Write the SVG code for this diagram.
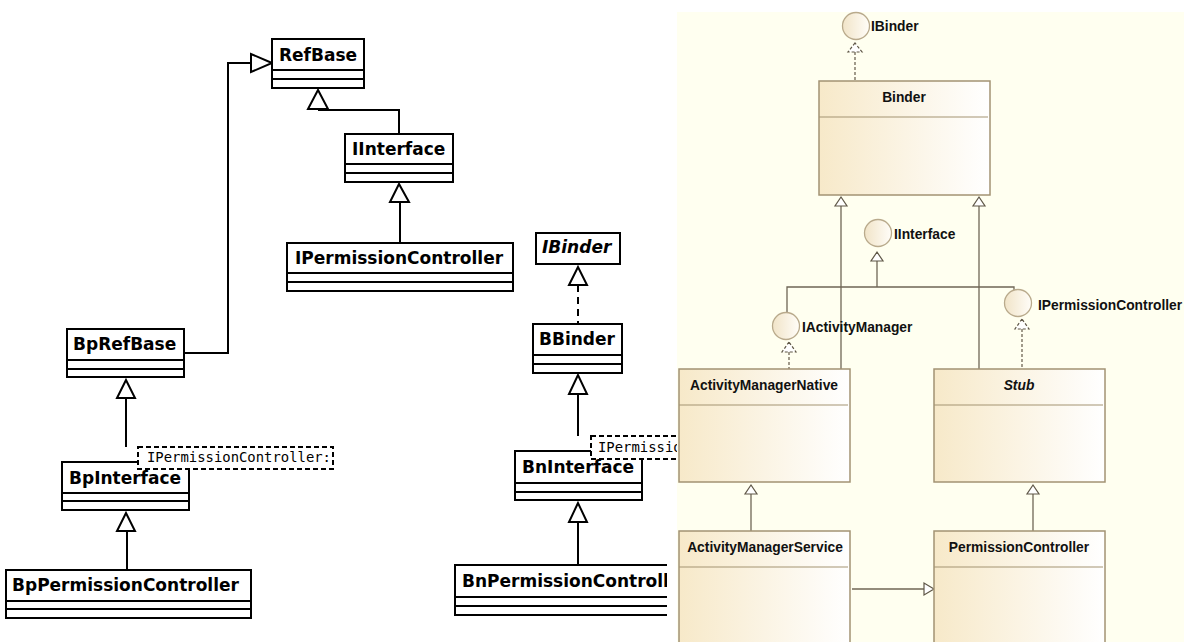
<svg xmlns="http://www.w3.org/2000/svg" width="1184" height="642" viewBox="0 0 1184 642">
  <defs>
    <style>
      .cls { fill: #ffffff; stroke: #000000; stroke-width: 2; }
      .sep { stroke: #000000; stroke-width: 2; fill: none; }
      .name { font-family: "DejaVu Sans", "Liberation Sans", sans-serif; font-weight: bold; font-size: 17px; fill: #000000; }
      .abs { font-style: italic; }
      .tparam { fill: #ffffff; stroke: #000000; stroke-width: 2; stroke-dasharray: 5 3; }
      .tptext { font-family: "DejaVu Sans Mono", "Liberation Mono", monospace; font-size: 13.9px; fill: #000000; }
      .edge { stroke: #000000; stroke-width: 2; fill: none; }
      .dash { stroke-dasharray: 7 5; }
      .head { fill: #ffffff; stroke: #000000; stroke-width: 2; stroke-linejoin: miter; }

      .panel { fill: #fffff0; }
      .rbox { fill: url(#boxFill); stroke: #a39373; stroke-width: 1.5; }
      .rsep { stroke: #a39373; stroke-width: 1.2; }
      .rname { font-family: "Liberation Sans", Arial, sans-serif; font-weight: bold; font-size: 13.8px; fill: #111111; }
      .iface { fill: url(#ballFill); stroke: #b9aa8c; stroke-width: 1.3; }
      .redge { stroke: #6f6655; stroke-width: 1.3; fill: none; }
      .rdash { stroke-dasharray: 3 2; }
      .rhead { fill: #ffffff; stroke: #5f5747; stroke-width: 1.2; }
    </style>
    <linearGradient id="boxFill" x1="0" y1="0" x2="1" y2="0">
      <stop offset="0" stop-color="#f7e9c9"/>
      <stop offset="1" stop-color="#ffffff"/>
    </linearGradient>
    <linearGradient id="ballFill" x1="0" y1="0" x2="1" y2="0">
      <stop offset="0" stop-color="#f1e4c8"/>
      <stop offset="1" stop-color="#fffdf8"/>
    </linearGradient>
    <clipPath id="leftArea">
      <rect x="0" y="0" width="677" height="642"/>
    </clipPath>
    <clipPath id="bottomEdge">
      <rect x="0" y="540" width="667" height="102"/>
    </clipPath>
  </defs>

  <rect x="0" y="0" width="1184" height="642" fill="#ffffff"/>

  <!-- Native C++ side: Bp / Bn class hierarchy -->
  <g id="native" clip-path="url(#leftArea)">
    <g id="connectors-native">
      <!-- BpRefBase -> RefBase -->
      <polyline class="edge" points="185,353 228,353 228,63 251,63"/>
      <polygon class="head" points="272,63 251,54 251,72"/>
      <!-- IInterface -> RefBase -->
      <polyline class="edge" points="318,110 399,110 399,134"/>
      <polygon class="head" points="318,90 308,109 328,109"/>
      <!-- IPermissionController -> IInterface -->
      <line class="edge" x1="400" y1="202" x2="400" y2="243"/>
      <polygon class="head" points="399,184 390,202 409,202"/>
      <!-- BpInterface -> BpRefBase -->
      <line class="edge" x1="126" y1="398" x2="126" y2="447"/>
      <polygon class="head" points="126,380 117,398 135,398"/>
      <!-- BpPermissionController -> BpInterface -->
      <line class="edge" x1="127" y1="531" x2="127" y2="570"/>
      <polygon class="head" points="126,513 117,531 135,531"/>
      <!-- BBinder ..> IBinder -->
      <line class="edge dash" x1="578" y1="285" x2="578" y2="324"/>
      <polygon class="head" points="578,267 569,285 587,285"/>
      <!-- BnInterface -> BBinder -->
      <line class="edge" x1="578" y1="394" x2="578" y2="436"/>
      <polygon class="head" points="578,375 569,394 587,394"/>
      <!-- BnPermissionController -> BnInterface -->
      <line class="edge" x1="578" y1="522" x2="578" y2="565"/>
      <polygon class="head" points="578,503 569,522 587,522"/>
    </g>

    <g id="RefBase">
      <rect class="cls" x="272" y="39" width="92" height="49"/>
      <line class="sep" x1="272" y1="70" x2="364" y2="70"/>
      <line class="sep" x1="272" y1="79" x2="364" y2="79"/>
      <text class="name" x="279" y="61">RefBase</text>
    </g>

    <g id="IInterface">
      <rect class="cls" x="345" y="134" width="108" height="48"/>
      <line class="sep" x1="345" y1="164" x2="453" y2="164"/>
      <line class="sep" x1="345" y1="173" x2="453" y2="173"/>
      <text class="name" x="352" y="155">IInterface</text>
    </g>

    <g id="IPermissionController">
      <rect class="cls" x="287" y="243" width="226" height="48"/>
      <line class="sep" x1="287" y1="273" x2="513" y2="273"/>
      <line class="sep" x1="287" y1="282" x2="513" y2="282"/>
      <text class="name" x="295" y="264">IPermissionController</text>
    </g>

    <g id="BpRefBase">
      <rect class="cls" x="67" y="329" width="117" height="48"/>
      <line class="sep" x1="67" y1="360" x2="184" y2="360"/>
      <line class="sep" x1="67" y1="369" x2="184" y2="369"/>
      <text class="name" x="73" y="350">BpRefBase</text>
    </g>

    <g id="BpInterface">
      <rect class="cls" x="62" y="462" width="127" height="48"/>
      <line class="sep" x1="62" y1="493" x2="189" y2="493"/>
      <line class="sep" x1="62" y1="501" x2="189" y2="501"/>
      <rect class="tparam" x="138" y="447" width="195" height="22"/>
      <text class="tptext" x="147" y="462">IPermissionController:</text>
      <text class="name" x="69" y="484">BpInterface</text>
    </g>

    <g id="BpPermissionController">
      <rect class="cls" x="6" y="570" width="245" height="48"/>
      <line class="sep" x1="6" y1="601" x2="251" y2="601"/>
      <line class="sep" x1="6" y1="609" x2="251" y2="609"/>
      <text class="name" x="12" y="591">BpPermissionController</text>
    </g>

    <g id="IBinder">
      <rect class="cls" x="536" y="233" width="84" height="31"/>
      <text class="name abs" x="542" y="253">IBinder</text>
    </g>

    <g id="BBinder">
      <rect class="cls" x="533" y="324" width="89" height="49"/>
      <line class="sep" x1="533" y1="355" x2="622" y2="355"/>
      <line class="sep" x1="533" y1="364" x2="622" y2="364"/>
      <text class="name" x="539" y="345">BBinder</text>
    </g>

    <g id="BnInterface">
      <rect class="cls" x="515" y="451" width="127" height="49"/>
      <line class="sep" x1="515" y1="483" x2="642" y2="483"/>
      <line class="sep" x1="515" y1="492" x2="642" y2="492"/>
      <rect class="tparam" x="591" y="436" width="195" height="23"/>
      <text class="tptext" x="598" y="452">IPermissionController:</text>
      <text class="name" x="522" y="473">BnInterface</text>
    </g>

    <g id="BnPermissionController" clip-path="url(#bottomEdge)">
      <rect class="cls" x="455" y="565" width="250" height="50"/>
      <line class="sep" x1="455" y1="597" x2="705" y2="597"/>
      <line class="sep" x1="455" y1="606" x2="705" y2="606"/>
      <text class="name" x="462" y="587">BnPermissionController</text>
    </g>
  </g>

  <!-- Java side: Binder / ActivityManagerNative / Stub hierarchy -->
  <rect class="panel" x="677" y="12" width="507" height="630"/>

  <g id="connectors-java">
    <!-- Binder ..> IBinder -->
    <line class="redge rdash" x1="855" y1="52" x2="855" y2="81"/>
    <polygon class="rhead rdash" points="855,43 848,52 862,52"/>
    <!-- ActivityManagerNative -> Binder -->
    <line class="redge" x1="841" y1="206" x2="841" y2="369"/>
    <polygon class="rhead" points="841,197 835,206 847,206"/>
    <!-- Stub -> Binder -->
    <line class="redge" x1="979" y1="206" x2="979" y2="369"/>
    <polygon class="rhead" points="979,197 973,206 985,206"/>
    <!-- IActivityManager, IPermissionController -> IInterface -->
    <polyline class="redge" points="787,312 787,287 1014,287 1014,290"/>
    <line class="redge" x1="877" y1="261" x2="877" y2="287"/>
    <polygon class="rhead" points="877,252 871,261 883,261"/>
    <!-- ActivityManagerNative ..> IActivityManager -->
    <line class="redge rdash" x1="789" y1="352" x2="789" y2="369"/>
    <polygon class="rhead rdash" points="789,342 782,352 796,352"/>
    <!-- Stub ..> IPermissionController -->
    <line class="redge rdash" x1="1022" y1="329" x2="1022" y2="369"/>
    <polygon class="rhead rdash" points="1022,319 1015,329 1029,329"/>
    <!-- ActivityManagerService -> ActivityManagerNative -->
    <line class="redge" x1="751" y1="494" x2="751" y2="531"/>
    <polygon class="rhead" points="751,485 745,494 757,494"/>
    <!-- PermissionController -> Stub -->
    <line class="redge" x1="1033" y1="494" x2="1033" y2="531"/>
    <polygon class="rhead" points="1033,485 1027,494 1039,494"/>
    <!-- ActivityManagerService -> PermissionController -->
    <line class="redge" x1="852" y1="589" x2="924" y2="589"/>
    <polygon class="rhead" points="934,589 924,583 924,595"/>
  </g>

  <g id="IBinder-iface">
    <circle class="iface" cx="856" cy="26" r="13.5"/>
    <text class="rname" x="871" y="31">IBinder</text>
  </g>

  <g id="Binder">
    <rect class="rbox" x="819" y="81" width="171" height="114"/>
    <line class="rsep" x1="819" y1="117" x2="988" y2="117"/>
    <text class="rname" x="904" y="102" text-anchor="middle">Binder</text>
  </g>

  <g id="IInterface-iface">
    <circle class="iface" cx="878" cy="233" r="13.5"/>
    <text class="rname" x="894" y="239">IInterface</text>
  </g>

  <g id="IActivityManager">
    <circle class="iface" cx="786" cy="326" r="13.5"/>
    <text class="rname" x="802" y="332">IActivityManager</text>
  </g>

  <g id="IPermissionController-iface">
    <circle class="iface" cx="1018" cy="303" r="13.5"/>
    <text class="rname" x="1038" y="310">IPermissionController</text>
  </g>

  <g id="ActivityManagerNative">
    <rect class="rbox" x="679" y="369" width="171" height="113"/>
    <line class="rsep" x1="679" y1="405" x2="848" y2="405"/>
    <text class="rname" x="764" y="390" text-anchor="middle">ActivityManagerNative</text>
  </g>

  <g id="Stub">
    <rect class="rbox" x="934" y="369" width="171" height="113"/>
    <line class="rsep" x1="934" y1="405" x2="1103" y2="405"/>
    <text class="rname" x="1019" y="390" text-anchor="middle" font-style="italic">Stub</text>
  </g>

  <g id="ActivityManagerService">
    <rect class="rbox" x="679" y="531" width="171" height="125"/>
    <line class="rsep" x1="679" y1="567" x2="848" y2="567"/>
    <text class="rname" x="765" y="552" text-anchor="middle">ActivityManagerService</text>
  </g>

  <g id="PermissionController">
    <rect class="rbox" x="934" y="531" width="171" height="125"/>
    <line class="rsep" x1="934" y1="567" x2="1103" y2="567"/>
    <text class="rname" x="1019" y="552" text-anchor="middle">PermissionController</text>
  </g>
</svg>
